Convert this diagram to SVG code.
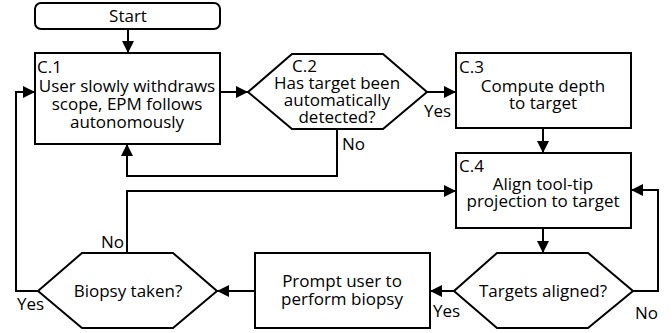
<svg xmlns="http://www.w3.org/2000/svg" width="672" height="333" viewBox="0 0 672 333">
<defs>
<marker id="ah" markerWidth="12" markerHeight="12" refX="12" refY="6" orient="auto" markerUnits="userSpaceOnUse">
<path d="M0,0 L12,6 L0,12 Z" fill="#000"/>
</marker>
</defs>
<style>
.s{fill:#fff;stroke:#000;stroke-width:2}
.c{fill:none;stroke:#000;stroke-width:2;marker-end:url(#ah)}
text{font-family:"Open Sans","Noto Sans",sans-serif;font-size:17px;fill:#000}
.m{text-anchor:middle}
</style>
<rect width="672" height="333" fill="#fff"/>
<g id="connectors">
<path class="c" d="M128,29 V53"/>
<path class="c" d="M220,92 H248"/>
<path class="c" d="M427,92 H456"/>
<path class="c" d="M337,129 V176 H127 V144"/>
<path class="c" d="M543,128 V153"/>
<path class="c" d="M543,228 V253"/>
<path class="c" d="M633,291 H658 V190 H631"/>
<path class="c" d="M454,291 H430"/>
<path class="c" d="M255,291 H217"/>
<path class="c" d="M127,253 V191 H456"/>
<path class="c" d="M38,291 H16 V92 H35"/>
<text x="424" y="117">Yes</text>
<text x="342" y="150">No</text>
<text x="101" y="248">No</text>
<text x="17" y="310">Yes</text>
<text x="433" y="317">Yes</text>
<text x="635" y="319">No</text>
</g>
<g id="start">
<rect class="s" x="35" y="3" width="185" height="26" rx="6"/>
<text class="m" x="128" y="22">Start</text>
</g>
<g id="c1">
<rect class="s" x="35" y="53" width="185" height="91"/>
<text x="37" y="73">C.1</text>
<text class="m" x="127" y="92">User slowly withdraws</text>
<text class="m" x="127" y="110">scope, EPM follows</text>
<text class="m" x="127" y="128">autonomously</text>
</g>
<g id="c2">
<path class="s" d="M248,92 L292,54 H383 L427,92 L383,129 H292 Z"/>
<text x="292" y="72">C.2</text>
<text class="m" x="337" y="89">Has target been</text>
<text class="m" x="337" y="106">automatically</text>
<text class="m" x="337" y="123">detected?</text>
</g>
<g id="c3">
<rect class="s" x="456" y="53" width="175" height="75"/>
<text x="459" y="73">C.3</text>
<text class="m" x="543" y="92">Compute depth</text>
<text class="m" x="543" y="109">to target</text>
</g>
<g id="c4">
<rect class="s" x="456" y="153" width="175" height="75"/>
<text x="459" y="172">C.4</text>
<text class="m" x="543" y="190">Align tool-tip</text>
<text class="m" x="543" y="207">projection to target</text>
</g>
<g id="aligned">
<path class="s" d="M454,291 L497,253 H588 L633,291 L588,328 H497 Z"/>
<text class="m" x="543" y="297">Targets aligned?</text>
</g>
<g id="prompt">
<rect class="s" x="255" y="253" width="175" height="75"/>
<text class="m" x="342" y="287">Prompt user to</text>
<text class="m" x="342" y="305">perform biopsy</text>
</g>
<g id="biopsy">
<path class="s" d="M38,291 L82,253 H173 L217,291 L173,328 H82 Z"/>
<text class="m" x="128" y="297">Biopsy taken?</text>
</g>
</svg>
